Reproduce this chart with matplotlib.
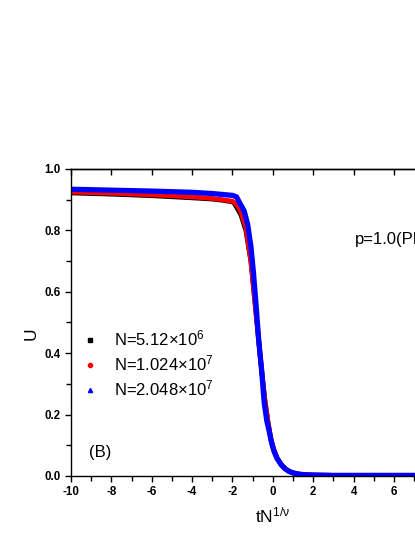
import matplotlib
matplotlib.use('Agg')
import matplotlib.pyplot as plt
from matplotlib.lines import Line2D
from matplotlib.ticker import MultipleLocator

plt.rcParams['font.family'] = 'Liberation Sans'
plt.rcParams['mathtext.fontset'] = 'custom'
plt.rcParams['mathtext.rm'] = 'Liberation Sans'
plt.rcParams['mathtext.it'] = 'Liberation Sans:italic'
plt.rcParams['axes.unicode_minus'] = False

# N = 5.12e6 (black)
x_black = [-10, -8, -6, -4, -3, -2.5, -2, -1.9, -1.75, -1.58, -1.34, -1.09, -0.88,
           -0.7, -0.55, -0.4, -0.25, -0.1, 0.05, 0.2, 0.4, 0.6, 0.8, 1.0, 1.3,
           1.6, 2, 3, 4, 5, 6, 7, 8, 9, 10]
u_black = [0.922, 0.918, 0.913, 0.906, 0.902, 0.898, 0.893, 0.887, 0.870, 0.850,
           0.800, 0.700, 0.560, 0.440, 0.340, 0.250, 0.180, 0.120, 0.085, 0.060,
           0.038, 0.024, 0.015, 0.010, 0.006, 0.004, 0.003, 0.002, 0.002, 0.002,
           0.002, 0.002, 0.002, 0.002, 0.002]

# N = 1.024e7 (red)
x_red = [-10, -8, -6, -4, -3, -2.5, -2, -1.9, -1.75, -1.58, -1.34, -1.09, -0.88,
         -0.7, -0.55, -0.4, -0.25, -0.1, 0.05, 0.2, 0.4, 0.6, 0.8, 1.0, 1.3,
         1.6, 2, 3, 4, 5, 6, 7, 8, 9, 10]
u_red = [0.925, 0.921, 0.916, 0.909, 0.904, 0.900, 0.895, 0.890, 0.880, 0.860,
         0.810, 0.700, 0.560, 0.440, 0.340, 0.250, 0.180, 0.120, 0.085, 0.060,
         0.038, 0.024, 0.015, 0.010, 0.006, 0.004, 0.003, 0.002, 0.002, 0.002,
         0.002, 0.002, 0.002, 0.002, 0.002]

# N = 2.048e7 (blue)
x_blue = [-10, -8, -6, -4, -3, -2.5, -2, -1.8, -1.67, -1.42, -1.25, -1.09, -0.96,
          -0.84, -0.71, -0.64, -0.55, -0.43, -0.3, -0.18, -0.05, 0.06, 0.2, 0.4,
          0.6, 0.8, 1.0, 1.3, 1.6, 2, 3, 4, 5, 6, 7, 8, 9, 10]
u_blue = [0.934, 0.931, 0.928, 0.924, 0.920, 0.917, 0.914, 0.909, 0.893, 0.863,
          0.820, 0.749, 0.661, 0.563, 0.450, 0.400, 0.340, 0.240, 0.180, 0.145,
          0.105, 0.080, 0.058, 0.038, 0.024, 0.015, 0.010, 0.006, 0.004, 0.003,
          0.002, 0.002, 0.002, 0.002, 0.002, 0.002, 0.002, 0.002]

labels = [r'N=5.12$\times$10$^{6}$', r'N=1.024$\times$10$^{7}$', r'N=2.048$\times$10$^{7}$']

fig = plt.figure(figsize=(4.15, 5.37), dpi=100)
ax = fig.add_axes([0.171, 0.1136, 0.973, 0.5717])

ax.plot(x_black, u_black, color='black', linewidth=3.4, solid_joinstyle='round', solid_capstyle='round')
ax.plot(x_red, u_red, color='red', linewidth=3.4, solid_joinstyle='round', solid_capstyle='round')
ax.plot(x_blue, u_blue, color='blue', linewidth=3.8, solid_joinstyle='round', solid_capstyle='round')

ax.set_xlim(-10, 10)
ax.set_ylim(0.0, 1.0)
ax.xaxis.set_major_locator(MultipleLocator(2))
ax.xaxis.set_minor_locator(MultipleLocator(1))
ax.yaxis.set_major_locator(MultipleLocator(0.2))
ax.yaxis.set_minor_locator(MultipleLocator(0.1))
ax.yaxis.set_major_formatter(matplotlib.ticker.FormatStrFormatter('%.1f'))

ax.tick_params(which='both', direction='out', width=1.0, labelsize=8.3, top=False, right=False)
ax.tick_params(which='major', length=4)
ax.tick_params(which='minor', length=3.5)
for lab in ax.get_xticklabels() + ax.get_yticklabels():
    lab.set_fontweight('bold')

# Origin-style mirrored top ticks (major only, pointing inward)
sec = ax.secondary_xaxis('top')
sec.xaxis.set_major_locator(MultipleLocator(2))
sec.tick_params(direction='in', length=4, width=1.0, labeltop=False)
sec.spines['top'].set_linewidth(1.0)

for s in ax.spines.values():
    s.set_linewidth(1.0)

ax.set_xlabel(r'tN$^{\mathrm{1/ν}}$', fontsize=12.5)
ax.xaxis.set_label_coords(0.5, -0.097)
ax.set_ylabel('U', fontsize=12.5)
ax.yaxis.set_label_coords(-0.08, 0.4625)

ax.text(4.06, 0.769, 'p=1.0(PR)', fontsize=12, va='center', ha='left')
ax.text(-9.1, 0.078, '(B)', fontsize=12, va='center', ha='left')

handles = [Line2D([], [], color='black', marker='s', linestyle='none', markersize=3),
           Line2D([], [], color='red', marker='o', linestyle='none', markersize=3),
           Line2D([], [], color='blue', marker='^', linestyle='none', markersize=3)]
ax.legend(handles, labels, loc='upper left', bbox_to_anchor=(0.035, 0.48), frameon=False,
          fontsize=12, handlelength=0.6, handletextpad=1.15, labelspacing=0.3,
          borderpad=0, borderaxespad=0)

fig.savefig('out.png', dpi=100)
